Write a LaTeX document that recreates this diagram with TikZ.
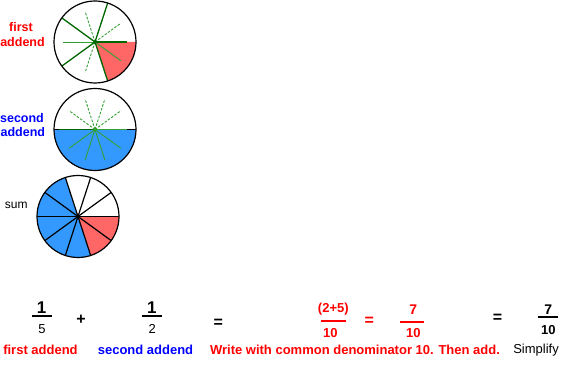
\documentclass[tikz,border=0pt]{standalone}
\usepackage{fontspec}
\setmainfont{Liberation Sans}
\definecolor{secred}{HTML}{FF6666}
\definecolor{secblue}{HTML}{3399FF}
\definecolor{dkgreen}{HTML}{006600}
\definecolor{ltgreen}{HTML}{33A033}
\definecolor{txtred}{HTML}{FF0000}
\definecolor{txtblue}{HTML}{0000FF}
\begin{document}
\begin{tikzpicture}[x=1pt,y=1pt,
  toplbl/.style={font=\fontsize{12.5}{14}\selectfont\bfseries, inner sep=0pt, anchor=base},
  toplblreg/.style={font=\fontsize{12}{14}\selectfont, inner sep=0pt, anchor=base},
  lbl/.style={font=\fontsize{13}{15}\selectfont\bfseries, inner sep=0pt, anchor=base},
  lblreg/.style={font=\fontsize{13}{15}\selectfont, inner sep=0pt, anchor=base},
  numbig/.style={font=\fontsize{17}{19}\selectfont\bfseries, inner sep=0pt, anchor=base},
  numb/.style={font=\fontsize{13}{15}\selectfont\bfseries, inner sep=0pt, anchor=base},
  numsev/.style={font=\fontsize{14}{16}\selectfont\bfseries, inner sep=0pt, anchor=base},
  numreg/.style={font=\fontsize{13}{15}\selectfont, inner sep=0pt, anchor=base},
  opsym/.style={font=\fontsize{16}{18}\selectfont\bfseries, inner sep=0pt, anchor=center},
  barline/.style={line width=2pt},
  fifth/.style={dkgreen, line width=1.3pt},
  tenthd/.style={ltgreen, line width=0.9pt, dash pattern=on 2.5pt off 1.5pt},
  tenths/.style={ltgreen, line width=0.9pt},
  rim/.style={line width=1.2pt},
  spoke/.style={line width=1.2pt}]
\useasboundingbox (0,0) rectangle (569,366);
\fill[white] (0,0) rectangle (569,366);

% ---- circle 1: first addend (1/5) ----
\coordinate (c1) at (95,324);
\fill[secred] (c1) -- ++(0:41) arc[start angle=0,end angle=-72,radius=41] -- cycle;
\foreach \a in {36,108,252} \draw[tenthd] (c1) -- ++(\a:32);
\foreach \a in {180,-36} \draw[tenths] (c1) -- ++(\a:32);
\foreach \a in {72,144,216,288} \draw[fifth] (c1) -- ++(\a:41);
\draw[fifth] (c1) -- ++(0:32);
\draw[rim] (c1) circle[radius=41];
\fill[dkgreen] (c1) circle[radius=1.8];

% ---- circle 2: second addend (1/2) ----
\coordinate (c2) at (95,236.5);
\fill[secblue] (c2) ++(180:41) arc[start angle=180,end angle=360,radius=41] -- cycle;
\foreach \a in {36,72,108,144} \draw[tenthd] (c2) -- ++(\a:32);
\foreach \a in {-36,-72,-108,-144} \draw[tenths] (c2) -- ++(\a:32);
\draw[line width=1.2pt] (c2) ++(180:41) -- ++(82,0);
\draw[fifth] (c2) -- ++(180:36);
\draw[ltgreen, line width=1.3pt] (c2) -- ++(0:32);
\draw[rim] (c2) circle[radius=41];
\fill[ltgreen] (c2) circle[radius=1.8];

% ---- circle 3: sum (7/10) ----
\coordinate (c3) at (78,149.5);
\fill[secred] (c3) -- ++(288:41) arc[start angle=288,end angle=360,radius=41] -- cycle;
\fill[secblue] (c3) -- ++(108:41) arc[start angle=108,end angle=288,radius=41] -- cycle;
\foreach \a in {0,36,...,324} \draw[spoke] (c3) -- ++(\a:41);
\draw[rim] (c3) circle[radius=41];

% ---- side labels ----
\node[toplbl, txtred] (fa1) at (21,334.3) {first};
\node[toplbl, txtred] (fa2) at (22.5,319.3) {addend};
\node[toplbl, txtblue] (sa1) at (22,243.3) {second};
\node[toplbl, txtblue] (sa2) at (22.8,229.7) {addend};
\node[toplblreg] (sumlbl) at (16.2,157) {sum};

% ---- equation ----
\node[numbig] (n1) at (41.7,52) {1};
\draw[barline] (32.3,50.3) -- (52.3,50.3);
\node[numreg] (d1) at (42,32.7) {5};
\node[opsym] (plus) at (81,46.5) {+};
\node[numbig] (n2) at (151.8,52) {1};
\draw[barline] (141.7,50.3) -- (162.3,50.3);
\node[numreg] (d2) at (152.3,32.7) {2};
\node[opsym] (eq1) at (218.4,43) {=};
\node[numb, txtred] (n3) at (333.3,53) {(2+5)};
\draw[barline, txtred] (320.7,45.3) -- (345.7,45.3);
\node[numb, txtred] (d3) at (330.3,28.3) {10};
\node[opsym, txtred] (eq2) at (369.3,44.3) {=};
\node[numsev, txtred] (n4) at (413.3,51) {7};
\draw[barline, txtred] (400,44.3) -- (424.3,44.3);
\node[numb, txtred] (d4) at (413.3,28.3) {10};
\node[opsym] (eq3) at (497.5,47.5) {=};
\node[numsev] (n5) at (548.3,51.7) {7};
\draw[barline] (537.7,49.3) -- (557.7,49.3);
\node[numb] (d5) at (548.3,31.7) {10};

% ---- bottom labels ----
\node[lbl, txtred] (l1) at (40.5,12) {first addend};
\node[lbl, txtblue] (l2) at (145.5,12) {second addend};
\node[lbl, txtred] (l3) at (355,12) {Write with common denominator 10. Then add.};
\node[lblreg] (l4) at (536,12.7) {Simplify};
\end{tikzpicture}
\end{document}
